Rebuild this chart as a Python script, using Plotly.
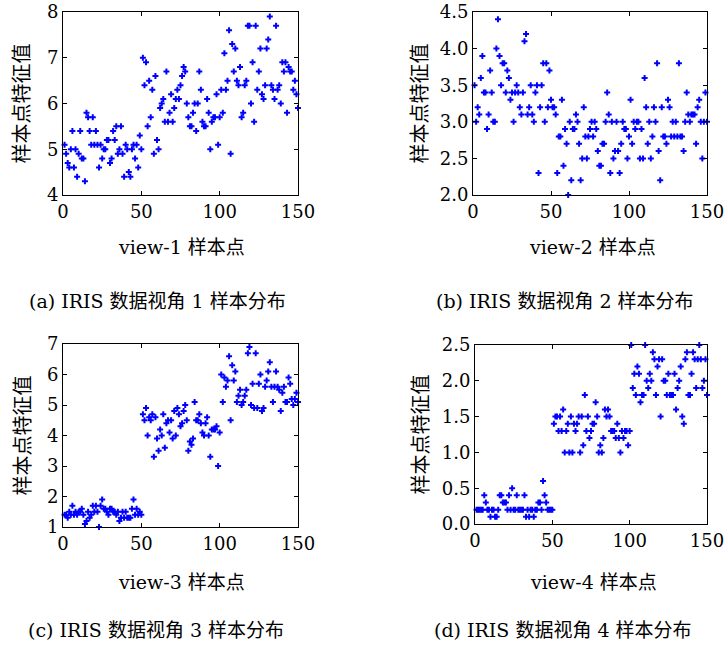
import plotly.graph_objects as go

W, H = 725, 646

sepal_length = [5.1,4.9,4.7,4.6,5.0,5.4,4.6,5.0,4.4,4.9,5.4,4.8,4.8,4.3,5.8,5.7,5.4,5.1,5.7,5.1,5.4,5.1,4.6,5.1,4.8,5.0,5.0,5.2,5.2,4.7,4.8,5.4,5.2,5.5,4.9,5.0,5.5,4.9,4.4,5.1,5.0,4.5,4.4,5.0,5.1,4.8,5.1,4.6,5.3,5.0,
                7.0,6.4,6.9,5.5,6.5,5.7,6.3,4.9,6.6,5.2,5.0,5.9,6.0,6.1,5.6,6.7,5.6,5.8,6.2,5.6,5.9,6.1,6.3,6.1,6.4,6.6,6.8,6.7,6.0,5.7,5.5,5.5,5.8,6.0,5.4,6.0,6.7,6.3,5.6,5.5,5.5,6.1,5.8,5.0,5.6,5.7,5.7,6.2,5.1,5.7,
                6.3,5.8,7.1,6.3,6.5,7.6,4.9,7.3,6.7,7.2,6.5,6.4,6.8,5.7,5.8,6.4,6.5,7.7,7.7,6.0,6.9,5.6,7.7,6.3,6.7,7.2,6.2,6.1,6.4,7.2,7.4,7.9,6.4,6.3,6.1,7.7,6.3,6.4,6.0,6.9,6.7,6.9,5.8,6.8,6.7,6.7,6.3,6.5,6.2,5.9]
sepal_width = [3.5,3.0,3.2,3.1,3.6,3.9,3.4,3.4,2.9,3.1,3.7,3.4,3.0,3.0,4.0,4.4,3.9,3.5,3.8,3.8,3.4,3.7,3.6,3.3,3.4,3.0,3.4,3.5,3.4,3.2,3.1,3.4,4.1,4.2,3.1,3.2,3.5,3.1,3.0,3.4,3.5,2.3,3.2,3.5,3.8,3.0,3.8,3.2,3.7,3.3,
               3.2,3.2,3.1,2.3,2.8,2.8,3.3,2.4,2.9,2.7,2.0,3.0,2.2,2.9,2.9,3.1,3.0,2.7,2.2,2.5,3.2,2.8,2.5,2.8,2.9,3.0,2.8,3.0,2.9,2.6,2.4,2.4,2.7,2.7,3.0,3.4,3.1,2.3,3.0,2.5,2.6,3.0,2.6,2.3,2.7,3.0,2.9,2.9,2.5,2.8,
               3.3,2.7,3.0,2.9,3.0,3.0,2.5,2.9,2.5,3.6,3.2,2.7,3.0,2.5,2.8,3.2,3.0,3.8,2.6,2.2,3.2,2.8,2.8,2.7,3.3,3.2,2.8,3.0,2.8,3.0,2.8,3.8,2.8,2.8,2.6,3.0,3.4,3.1,3.0,3.1,3.1,3.1,2.7,3.2,3.3,3.0,2.5,3.0,3.4,3.0]
petal_length = [1.4,1.4,1.3,1.5,1.4,1.7,1.4,1.5,1.4,1.5,1.5,1.6,1.4,1.1,1.2,1.5,1.3,1.4,1.7,1.5,1.7,1.5,1.0,1.7,1.9,1.6,1.6,1.5,1.4,1.6,1.6,1.5,1.5,1.4,1.5,1.2,1.3,1.5,1.3,1.5,1.3,1.3,1.3,1.6,1.9,1.4,1.6,1.4,1.5,1.4,
                4.7,4.5,4.9,4.0,4.6,4.5,4.7,3.3,4.6,3.9,3.5,4.2,4.0,4.7,3.6,4.4,4.5,4.1,4.5,3.9,4.8,4.0,4.9,4.7,4.3,4.4,4.8,5.0,4.5,3.5,3.8,3.7,3.9,5.1,4.5,4.5,4.7,4.4,4.1,4.0,4.4,4.6,4.0,3.3,4.2,4.2,4.2,4.3,3.0,4.1,
                6.0,5.1,5.9,5.6,5.8,6.6,4.5,6.3,5.8,6.1,5.1,5.3,5.5,5.0,5.1,5.3,5.5,6.7,6.9,5.0,5.7,4.9,6.7,4.9,5.7,6.0,4.8,4.9,5.6,5.8,6.1,6.4,5.6,5.1,5.6,6.1,5.6,5.5,4.8,5.4,5.6,5.1,5.1,5.9,5.7,5.2,5.0,5.2,5.4,5.1]
petal_width = [0.2,0.2,0.2,0.2,0.2,0.4,0.3,0.2,0.2,0.1,0.2,0.2,0.1,0.1,0.2,0.4,0.4,0.3,0.3,0.3,0.2,0.4,0.2,0.5,0.2,0.2,0.4,0.2,0.2,0.2,0.2,0.4,0.1,0.2,0.1,0.2,0.2,0.1,0.2,0.2,0.3,0.3,0.2,0.6,0.4,0.3,0.2,0.2,0.2,0.2,
               1.4,1.5,1.5,1.3,1.5,1.3,1.6,1.0,1.3,1.4,1.0,1.5,1.0,1.4,1.3,1.4,1.5,1.0,1.5,1.1,1.8,1.3,1.5,1.2,1.3,1.4,1.4,1.7,1.5,1.0,1.1,1.0,1.2,1.6,1.5,1.6,1.5,1.3,1.3,1.3,1.2,1.4,1.2,1.0,1.3,1.2,1.3,1.3,1.1,1.3,
               2.5,1.9,2.1,1.8,2.2,2.1,1.7,1.8,1.8,2.5,2.0,1.9,2.1,2.0,2.4,2.3,1.8,2.2,2.3,1.5,2.3,2.0,2.0,1.8,2.1,1.8,1.8,1.8,2.1,1.6,1.9,2.0,2.2,1.5,1.4,2.3,2.4,1.8,1.8,2.1,2.4,2.3,1.9,2.3,2.5,2.3,1.9,2.0,2.3,1.8]

sample_idx = list(range(1, 151))
views = [sepal_length, sepal_width, petal_length, petal_width]
x_titles = ["view-1 样本点", "view-2 样本点", "view-3 样本点", "view-4 样本点"]
captions = ["(a) IRIS 数据视角 1 样本分布", "(b) IRIS 数据视角 2 样本分布",
            "(c) IRIS 数据视角 3 样本分布", "(d) IRIS 数据视角 4 样本分布"]
y_title = "样本点特征值"
y_ranges = [[4, 8], [2, 4.5], [1, 7], [0, 2.5]]
y_dticks = [1, 0.5, 1, 0.5]
y_formats = ["d", ".1f", "d", ".1f"]
x_ticks = [0, 50, 100, 150]

# pixel boxes: left, right, top, bottom
boxes = [(63, 298, 12, 195), (473, 707, 12, 195), (63, 298, 344, 527), (475, 707, 345, 524)]
ytitle_x = [22, 420, 22, 420]
xtitle_y = [247, 247, 582, 582]
xtitle_x = [181, 592, 181, 593]
caption_x = [157, 565, 156, 563]
caption_y = [301, 301, 630, 630]

FONT = "DejaVu Serif, Noto Sans CJK SC, serif"

fig = go.Figure()
layout = dict(
    width=W, height=H, margin=dict(l=0, r=0, t=0, b=0, autoexpand=False),
    paper_bgcolor="white", plot_bgcolor="white", showlegend=False,
    font=dict(family=FONT, size=18, color="black"),
)
annotations = []
for i in range(4):
    l, r, t, b = boxes[i]
    sx = "" if i == 0 else str(i + 1)
    fig.add_trace(go.Scatter(
        x=sample_idx, y=views[i], mode="markers",
        marker=dict(symbol="cross", size=5, color="#0000ff", line=dict(width=0)),
        xaxis="x" + sx, yaxis="y" + sx, cliponaxis=False,
    ))
    layout["xaxis" + sx] = dict(
        domain=[l / W, r / W], anchor="y" + sx, range=[0, 150], automargin=False,
        tickvals=x_ticks, ticks="inside", ticklen=4, tickcolor="black",
        ticklabeloverflow="allow",
        showline=True, linecolor="black", linewidth=1, mirror="ticks",
        showgrid=False, zeroline=False, tickfont=dict(size=18),
    )
    layout["yaxis" + sx] = dict(
        domain=[1 - b / H, 1 - t / H], anchor="x" + sx, range=y_ranges[i], automargin=False,
        dtick=y_dticks[i], tick0=y_ranges[i][0], tickformat=y_formats[i],
        ticks="inside", ticklen=4, tickcolor="black",
        ticklabeloverflow="allow",
        showline=True, linecolor="black", linewidth=1, mirror="ticks",
        showgrid=False, zeroline=False, tickfont=dict(size=18),
    )
    annotations.append(dict(
        text=x_titles[i], x=xtitle_x[i] / W, y=1 - xtitle_y[i] / H,
        xref="paper", yref="paper", showarrow=False, xanchor="center", yanchor="middle",
        font=dict(size=19)))
    annotations.append(dict(
        text=y_title, x=ytitle_x[i] / W, y=1 - (t + b) / 2 / H, textangle=-90,
        xref="paper", yref="paper", showarrow=False, xanchor="center", yanchor="middle",
        font=dict(size=20)))
    annotations.append(dict(
        text=captions[i], x=caption_x[i] / W, y=1 - caption_y[i] / H,
        xref="paper", yref="paper", showarrow=False, xanchor="center", yanchor="middle",
        font=dict(size=19)))
layout["annotations"] = annotations
fig.update_layout(**layout)
fig.write_html("out.html", config={"displayModeBar": False},
               post_script="document.body.style.margin='0';")
